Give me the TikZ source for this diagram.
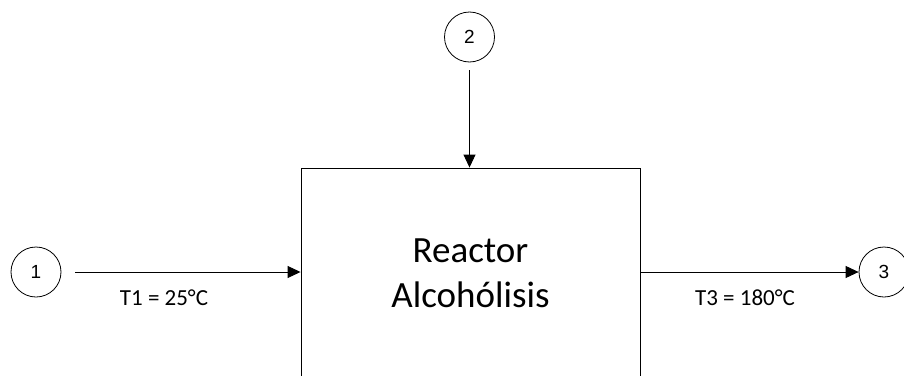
\documentclass[tikz,border=0pt]{standalone}
\usepackage{fontspec}
\setmainfont{Carlito}
\newfontfamily\numfont{Liberation Sans}
\usetikzlibrary{arrows.meta}
\begin{document}
\begin{tikzpicture}[x=1pt,y=-1pt,
  line/.style={draw=black,line width=0.9pt},
  flow/.style={line,-{Triangle[length=13pt,width=12pt]}},
  stream/.style={circle,draw=black,line width=0.8pt,minimum size=50pt,inner sep=0pt,font=\numfont\fontsize{19}{21}\selectfont},
  unit/.style={draw=black,line width=0.9pt,minimum width=339pt,minimum height=210pt,inner sep=0pt,align=center,font=\fontsize{37}{45}\selectfont},
  lbl/.style={font=\fontsize{23}{27}\selectfont,inner sep=0pt}]
\clip (0,0) rectangle (904,375);
\fill[white] (0,0) rectangle (904,375);
\node[unit] (box) at (470.5,273) {Reactor\\Alcohólisis};
\node[stream] (c1) at (36,272) {1};
\node[stream] (c2) at (469.5,37) {2};
\node[stream] (c3) at (884,272) {3};
\draw[flow,shorten <=14pt] (c1.east) -- (box.west |- c1);
\draw[flow,shorten <=8pt] (c2.south) -- (box.north -| c2);
\draw[flow] (box.east |- c3) -- (c3.west);
\node[lbl] (t1) at (164,298) {T1 = 25°C};
\node[lbl] (t3) at (745,298) {T3 = 180°C};
\end{tikzpicture}
\end{document}
